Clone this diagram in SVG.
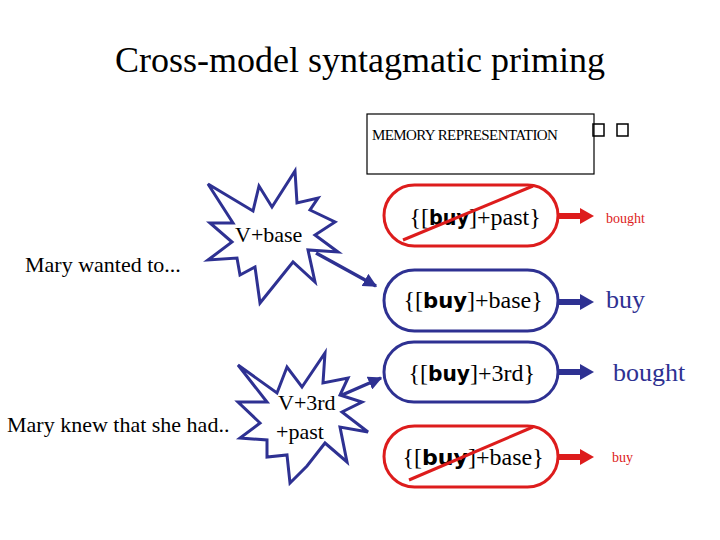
<svg xmlns="http://www.w3.org/2000/svg" width="720" height="540" viewBox="0 0 720 540">
<defs>
<style>
.s{font-family:"Liberation Serif","Times New Roman",serif;}
.h{font-family:"DejaVu Sans","Liberation Sans",sans-serif;font-weight:900;font-size:21px;}
.p{font-family:"Liberation Serif","Times New Roman",serif;font-size:24px;}
.star{fill:#fff;stroke:#2e3192;stroke-width:3;stroke-linejoin:miter;}
.pillB{fill:#fff;stroke:#2e3192;stroke-width:3;}
.pillR{fill:#fff;stroke:#dd1c1c;stroke-width:3;}
.conn{stroke:#2e3192;stroke-width:3.5;fill:none;}
.strike{stroke:#dd1c1c;stroke-width:3;}
</style>
<marker id="ah" viewBox="0 0 10 10" refX="9" refY="5" markerWidth="4" markerHeight="4" orient="auto" markerUnits="strokeWidth">
<path d="M0,0 L10,5 L0,10 z" fill="#2e3192"/>
</marker>
</defs>
<rect width="720" height="540" fill="#fff"/>
<text class="s" x="360" y="72" font-size="36" text-anchor="middle">Cross-model syntagmatic priming</text>

<g id="memory">
<rect x="367" y="114" width="227" height="60" fill="none" stroke="#000" stroke-width="1.2"/>
<text class="s" x="372" y="140" font-size="15" letter-spacing="-0.6">MEMORY REPRESENTATION</text>
<rect x="593" y="124" width="11" height="12" fill="none" stroke="#000" stroke-width="1.5"/>
<rect x="617" y="124" width="11" height="12" fill="none" stroke="#000" stroke-width="1.5"/>
</g>

<g id="mary1"><text class="s" x="25" y="272" font-size="22">Mary wanted to...</text></g>
<g id="mary2"><text class="s" x="7" y="432" font-size="22">Mary knew that she had..</text></g>

<g id="star1">
<polygon class="star" points="208,184 253,211 259,186 272,207 295,171 297,203 318,198 310,210 335,222 315,235 338,252 308,250 315,282 293,262 260,303 255,267 240,275 237,258 208,260 232,242 210,223 233,223"/>
<text class="s" x="235" y="242" font-size="22">V+base</text>
</g>

<g id="star2">
<polygon class="star" points="238,365 277,393 287,367 302,387 325,353 323,383 348,378 340,395 362,402 342,412 368,432 340,427 347,462 325,443 307,466 290,483 287,455 267,457 267,440 240,438 260,423 238,402 267,402"/>
<text class="s" x="278" y="410" font-size="22">V+3rd</text>
<text class="s" x="276" y="439" font-size="22">+past</text>
</g>

<g id="connectors">
<line class="conn" x1="316" y1="253" x2="376" y2="286" marker-end="url(#ah)"/>
<line class="conn" x1="342" y1="395" x2="381" y2="378" marker-end="url(#ah)"/>
<g fill="#dd1c1c" stroke="none">
<rect x="558" y="213" width="24" height="6"/><polygon points="580,208 594,216 580,224"/>
<rect x="558" y="454" width="24" height="6"/><polygon points="580,449 594,457 580,465"/>
</g>
<g fill="#2e3192" stroke="none">
<rect x="558" y="299" width="24" height="6"/><polygon points="580,294 594,302 580,310"/>
<rect x="558" y="369" width="24" height="6"/><polygon points="580,364 594,372 580,380"/>
</g>
</g>

<g id="pill1">
<rect class="pillR" x="384" y="185" width="174" height="61" rx="30.5"/>
<text class="p" x="429" y="225" text-anchor="end">{[</text>
<text class="h" x="429" y="225" textLength="40" lengthAdjust="spacingAndGlyphs">buy</text>
<text class="p" x="469" y="225">]+past}</text>
<line class="strike" x1="403" y1="240" x2="533" y2="186"/>
</g>
<g id="out1"><text class="s" x="606" y="223" font-size="14" fill="#dd1c1c">bought</text></g>

<g id="pill2">
<rect class="pillB" x="384" y="270" width="174" height="61" rx="30.5"/>
<text class="p" x="423" y="308" text-anchor="end">{[</text>
<text class="h" x="423" y="308" textLength="44" lengthAdjust="spacingAndGlyphs">buy</text>
<text class="p" x="467" y="308">]+base}</text>
</g>
<g id="out2"><text class="s" x="606" y="308" font-size="26" fill="#2e3192">buy</text></g>

<g id="pill3">
<rect class="pillB" x="384" y="342" width="174" height="60" rx="30"/>
<text class="p" x="428" y="381" text-anchor="end">{[</text>
<text class="h" x="428" y="381" textLength="42" lengthAdjust="spacingAndGlyphs">buy</text>
<text class="p" x="470" y="381">]+3rd}</text>
</g>
<g id="out3"><text class="s" x="613" y="381" font-size="26" fill="#2e3192">bought</text></g>

<g id="pill4">
<rect class="pillR" x="384" y="426" width="174" height="61" rx="30.5"/>
<text class="p" x="422" y="465" text-anchor="end">{[</text>
<text class="h" x="422" y="465" textLength="46" lengthAdjust="spacingAndGlyphs">buy</text>
<text class="p" x="468" y="465">]+base}</text>
<line class="strike" x1="409" y1="480" x2="533" y2="427"/>
</g>
<g id="out4"><text class="s" x="612" y="462" font-size="14" fill="#dd1c1c">buy</text></g>
</svg>
